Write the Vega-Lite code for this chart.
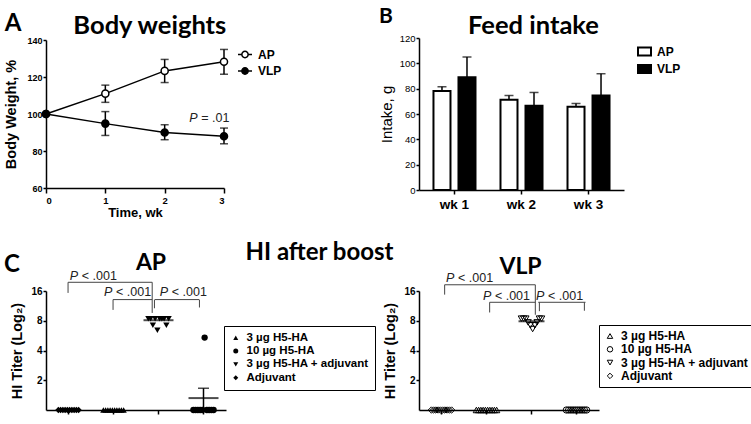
{
  "$schema": "https://vega.github.io/schema/vega-lite/v6.json",
  "background": "white",
  "padding": {"left": 3, "top": 5, "right": 0, "bottom": 0},
  "columns": 2,
  "align": {"row": "each", "column": "none"},
  "bounds": "flush",
  "center": true,
  "spacing": {"row": 101, "column": 193},
  "resolve": {"scale": {"fill": "independent", "shape": "independent", "xOffset": "independent"}, "legend": {"fill": "independent", "shape": "independent"}},
  "config": {
    "font": "Liberation Sans",
    "view": {"stroke": null},
    "axis": {"domainColor": "black", "domainWidth": 1.5, "tickColor": "black", "tickWidth": 1.5, "labelColor": "black", "titleColor": "black", "grid": false, "labelFont": "Liberation Sans", "titleFont": "Liberation Sans", "labelOverlap": false},
    "legend": {"labelColor": "black"},
    "text": {"color": "black"}
  },
  "datasets": {
    "bw": [
      {"wk": 0, "group": "AP", "bw": 100},
      {"wk": 1, "group": "AP", "bw": 111, "lo": 106.3, "hi": 115.6},
      {"wk": 2, "group": "AP", "bw": 123.3, "lo": 117, "hi": 129.5},
      {"wk": 3, "group": "AP", "bw": 128.2, "lo": 121.5, "hi": 134.9},
      {"wk": 0, "group": "VLP", "bw": 100},
      {"wk": 1, "group": "VLP", "bw": 94.8, "lo": 88.4, "hi": 101.3},
      {"wk": 2, "group": "VLP", "bw": 90, "lo": 86.1, "hi": 94.2},
      {"wk": 3, "group": "VLP", "bw": 88, "lo": 83.9, "hi": 92.4}
    ],
    "feed": [
      {"week": "wk 1", "group": "AP", "intake": 78.1, "upper": 81.5},
      {"week": "wk 1", "group": "VLP", "intake": 89.1, "upper": 105},
      {"week": "wk 2", "group": "AP", "intake": 71.2, "upper": 74.6},
      {"week": "wk 2", "group": "VLP", "intake": 66.5, "upper": 77},
      {"week": "wk 3", "group": "AP", "intake": 65.7, "upper": 68.3},
      {"week": "wk 3", "group": "VLP", "intake": 74.6, "upper": 91.8}
    ],
    "hi": [
      {"panel": "AP", "group": "Adjuvant", "rep": 1, "titer": 1}, {"panel": "AP", "group": "Adjuvant", "rep": 2, "titer": 1}, {"panel": "AP", "group": "Adjuvant", "rep": 3, "titer": 1}, {"panel": "AP", "group": "Adjuvant", "rep": 4, "titer": 1}, {"panel": "AP", "group": "Adjuvant", "rep": 5, "titer": 1}, {"panel": "AP", "group": "Adjuvant", "rep": 6, "titer": 1}, {"panel": "AP", "group": "Adjuvant", "rep": 7, "titer": 1}, {"panel": "AP", "group": "Adjuvant", "rep": 8, "titer": 1}, {"panel": "AP", "group": "Adjuvant", "rep": 9, "titer": 1}, {"panel": "AP", "group": "Adjuvant", "rep": 10, "titer": 1},
      {"panel": "AP", "group": "3 µg H5-HA", "rep": 1, "titer": 1}, {"panel": "AP", "group": "3 µg H5-HA", "rep": 2, "titer": 1}, {"panel": "AP", "group": "3 µg H5-HA", "rep": 3, "titer": 1}, {"panel": "AP", "group": "3 µg H5-HA", "rep": 4, "titer": 1}, {"panel": "AP", "group": "3 µg H5-HA", "rep": 5, "titer": 1}, {"panel": "AP", "group": "3 µg H5-HA", "rep": 6, "titer": 1}, {"panel": "AP", "group": "3 µg H5-HA", "rep": 7, "titer": 1}, {"panel": "AP", "group": "3 µg H5-HA", "rep": 8, "titer": 1}, {"panel": "AP", "group": "3 µg H5-HA", "rep": 9, "titer": 1}, {"panel": "AP", "group": "3 µg H5-HA", "rep": 10, "titer": 1},
      {"panel": "AP", "group": "3 µg H5-HA + adjuvant", "rep": 1, "titer": 8.4}, {"panel": "AP", "group": "3 µg H5-HA + adjuvant", "rep": 2, "titer": 8.4}, {"panel": "AP", "group": "3 µg H5-HA + adjuvant", "rep": 3, "titer": 7.2}, {"panel": "AP", "group": "3 µg H5-HA + adjuvant", "rep": 4, "titer": 8.4}, {"panel": "AP", "group": "3 µg H5-HA + adjuvant", "rep": 5, "titer": 6.4}, {"panel": "AP", "group": "3 µg H5-HA + adjuvant", "rep": 6, "titer": 8.4}, {"panel": "AP", "group": "3 µg H5-HA + adjuvant", "rep": 7, "titer": 8.4}, {"panel": "AP", "group": "3 µg H5-HA + adjuvant", "rep": 8, "titer": 8.4}, {"panel": "AP", "group": "3 µg H5-HA + adjuvant", "rep": 9, "titer": 7.2}, {"panel": "AP", "group": "3 µg H5-HA + adjuvant", "rep": 10, "titer": 8.4},
      {"panel": "AP", "group": "10 µg H5-HA", "rep": 1, "titer": 1}, {"panel": "AP", "group": "10 µg H5-HA", "rep": 2, "titer": 1}, {"panel": "AP", "group": "10 µg H5-HA", "rep": 3, "titer": 1}, {"panel": "AP", "group": "10 µg H5-HA", "rep": 4, "titer": 1}, {"panel": "AP", "group": "10 µg H5-HA", "rep": 5, "titer": 1}, {"panel": "AP", "group": "10 µg H5-HA", "rep": 6, "titer": 5.4}, {"panel": "AP", "group": "10 µg H5-HA", "rep": 7, "titer": 1}, {"panel": "AP", "group": "10 µg H5-HA", "rep": 8, "titer": 1}, {"panel": "AP", "group": "10 µg H5-HA", "rep": 9, "titer": 1}, {"panel": "AP", "group": "10 µg H5-HA", "rep": 10, "titer": 1},
      {"panel": "VLP", "group": "Adjuvant", "rep": 1, "titer": 1}, {"panel": "VLP", "group": "Adjuvant", "rep": 2, "titer": 1}, {"panel": "VLP", "group": "Adjuvant", "rep": 3, "titer": 1}, {"panel": "VLP", "group": "Adjuvant", "rep": 4, "titer": 1}, {"panel": "VLP", "group": "Adjuvant", "rep": 5, "titer": 1}, {"panel": "VLP", "group": "Adjuvant", "rep": 6, "titer": 1}, {"panel": "VLP", "group": "Adjuvant", "rep": 7, "titer": 1}, {"panel": "VLP", "group": "Adjuvant", "rep": 8, "titer": 1}, {"panel": "VLP", "group": "Adjuvant", "rep": 9, "titer": 1}, {"panel": "VLP", "group": "Adjuvant", "rep": 10, "titer": 1},
      {"panel": "VLP", "group": "3 µg H5-HA", "rep": 1, "titer": 1}, {"panel": "VLP", "group": "3 µg H5-HA", "rep": 2, "titer": 1}, {"panel": "VLP", "group": "3 µg H5-HA", "rep": 3, "titer": 1}, {"panel": "VLP", "group": "3 µg H5-HA", "rep": 4, "titer": 1}, {"panel": "VLP", "group": "3 µg H5-HA", "rep": 5, "titer": 1}, {"panel": "VLP", "group": "3 µg H5-HA", "rep": 6, "titer": 1}, {"panel": "VLP", "group": "3 µg H5-HA", "rep": 7, "titer": 1}, {"panel": "VLP", "group": "3 µg H5-HA", "rep": 8, "titer": 1}, {"panel": "VLP", "group": "3 µg H5-HA", "rep": 9, "titer": 1}, {"panel": "VLP", "group": "3 µg H5-HA", "rep": 10, "titer": 1},
      {"panel": "VLP", "group": "3 µg H5-HA + adjuvant", "rep": 1, "titer": 8.4}, {"panel": "VLP", "group": "3 µg H5-HA + adjuvant", "rep": 2, "titer": 8.4}, {"panel": "VLP", "group": "3 µg H5-HA + adjuvant", "rep": 3, "titer": 8.4}, {"panel": "VLP", "group": "3 µg H5-HA + adjuvant", "rep": 4, "titer": 7.7}, {"panel": "VLP", "group": "3 µg H5-HA + adjuvant", "rep": 5, "titer": 7.2}, {"panel": "VLP", "group": "3 µg H5-HA + adjuvant", "rep": 6, "titer": 6.6}, {"panel": "VLP", "group": "3 µg H5-HA + adjuvant", "rep": 7, "titer": 7.2}, {"panel": "VLP", "group": "3 µg H5-HA + adjuvant", "rep": 8, "titer": 7.7}, {"panel": "VLP", "group": "3 µg H5-HA + adjuvant", "rep": 9, "titer": 8.4}, {"panel": "VLP", "group": "3 µg H5-HA + adjuvant", "rep": 10, "titer": 8.4},
      {"panel": "VLP", "group": "10 µg H5-HA", "rep": 1, "titer": 1}, {"panel": "VLP", "group": "10 µg H5-HA", "rep": 2, "titer": 1}, {"panel": "VLP", "group": "10 µg H5-HA", "rep": 3, "titer": 1}, {"panel": "VLP", "group": "10 µg H5-HA", "rep": 4, "titer": 1}, {"panel": "VLP", "group": "10 µg H5-HA", "rep": 5, "titer": 1}, {"panel": "VLP", "group": "10 µg H5-HA", "rep": 6, "titer": 1}, {"panel": "VLP", "group": "10 µg H5-HA", "rep": 7, "titer": 1}, {"panel": "VLP", "group": "10 µg H5-HA", "rep": 8, "titer": 1}, {"panel": "VLP", "group": "10 µg H5-HA", "rep": 9, "titer": 1}, {"panel": "VLP", "group": "10 µg H5-HA", "rep": 10, "titer": 1}
    ],
    "himean": [
      {"panel": "AP", "group": "3 µg H5-HA + adjuvant", "mean": 8.1},
      {"panel": "AP", "group": "10 µg H5-HA", "mean": 1.32, "lower": 1, "upper": 1.66},
      {"panel": "VLP", "group": "3 µg H5-HA + adjuvant", "mean": 7.9}
    ],
    "brh": [
      {"panel": "AP", "k": "a", "from": "Adjuvant", "to": "3 µg H5-HA + adjuvant", "y": 19.6},
      {"panel": "AP", "k": "a", "from": "3 µg H5-HA", "to": "3 µg H5-HA + adjuvant", "y": 13.1},
      {"panel": "AP", "k": "b", "from": "3 µg H5-HA + adjuvant", "to": "10 µg H5-HA", "y": 13.1},
      {"panel": "VLP", "k": "a", "from": "Adjuvant", "to": "3 µg H5-HA + adjuvant", "y": 18.5},
      {"panel": "VLP", "k": "a", "from": "3 µg H5-HA", "to": "3 µg H5-HA + adjuvant", "y": 12.3},
      {"panel": "VLP", "k": "b", "from": "3 µg H5-HA + adjuvant", "to": "10 µg H5-HA", "y": 12.3}
    ],
    "brv": [
      {"panel": "AP", "k": "c", "at": "Adjuvant", "y": 19.6, "y2": 15.3},
      {"panel": "AP", "k": "c", "at": "3 µg H5-HA", "y": 13.1, "y2": 10.3},
      {"panel": "AP", "k": "d", "at": "3 µg H5-HA + adjuvant", "y": 19.6, "y2": 9.6},
      {"panel": "AP", "k": "e", "at": "3 µg H5-HA + adjuvant", "y": 13.1, "y2": 10.7},
      {"panel": "AP", "k": "e", "at": "10 µg H5-HA", "y": 13.1, "y2": 10.9},
      {"panel": "VLP", "k": "c", "at": "Adjuvant", "y": 18.5, "y2": 14.7},
      {"panel": "VLP", "k": "c", "at": "3 µg H5-HA", "y": 12.3, "y2": 9.7},
      {"panel": "VLP", "k": "d", "at": "3 µg H5-HA + adjuvant", "y": 18.5, "y2": 9.2},
      {"panel": "VLP", "k": "e", "at": "3 µg H5-HA + adjuvant", "y": 12.3, "y2": 10.0},
      {"panel": "VLP", "k": "e", "at": "10 µg H5-HA", "y": 12.3, "y2": 10.1}
    ],
    "ptxt": [
      {"panel": "AP", "k": "f", "at": "Adjuvant", "y": 22.9},
      {"panel": "AP", "k": "g", "at": "3 µg H5-HA", "y": 15.8},
      {"panel": "AP", "k": "f", "at": "3 µg H5-HA + adjuvant", "y": 15.8},
      {"panel": "VLP", "k": "f", "at": "Adjuvant", "y": 21.7},
      {"panel": "VLP", "k": "g", "at": "3 µg H5-HA", "y": 14.1},
      {"panel": "VLP", "k": "f", "at": "3 µg H5-HA + adjuvant", "y": 14.1}
    ]
  },
  "concat": [
    {
      "width": 178, "height": 148,
      "layer": [
        {"data": {"name": "bw"}, "mark": {"type": "line", "color": "black", "strokeWidth": 1.5},
         "encoding": {
           "x": {"field": "wk", "type": "quantitative", "scale": {"domain": [0, 3], "nice": false}, "axis": {"values": [0, 1, 2, 3], "tickCount": 10, "format": "d", "title": "Time, wk", "tickSize": 5, "labelFontSize": 9.5, "labelFontWeight": "bold", "labelPadding": 2, "labelOverlap": false, "titleFontSize": 13, "titleFontWeight": "bold", "titlePadding": 2}},
           "y": {"field": "bw", "type": "quantitative", "scale": {"domain": [60, 140], "nice": false, "zero": false}, "axis": {"values": [60, 80, 100, 120, 140], "tickCount": 10, "title": "Body Weight, %", "tickSize": 3, "labelFontSize": 9, "labelFontWeight": "bold", "labelPadding": 1, "labelOverlap": false, "labelBound": false, "titleFontSize": 14.5, "titleFontWeight": "bold", "titlePadding": 8}},
           "detail": {"field": "group"}
         }},
        {"data": {"name": "bw"}, "mark": {"type": "rule", "color": "black", "strokeWidth": 1.5},
         "encoding": {"x": {"field": "wk", "type": "quantitative", "scale": {"domain": [0, 3], "nice": false}}, "y": {"field": "lo", "type": "quantitative", "scale": {"domain": [60, 140], "nice": false, "zero": false}}, "y2": {"field": "hi"}}},
        {"data": {"name": "bw"}, "mark": {"type": "tick", "orient": "horizontal", "color": "black", "size": 8, "thickness": 1.5},
         "encoding": {"x": {"field": "wk", "type": "quantitative", "scale": {"domain": [0, 3], "nice": false}}, "y": {"field": "lo", "type": "quantitative", "scale": {"domain": [60, 140], "nice": false, "zero": false}}}},
        {"data": {"name": "bw"}, "mark": {"type": "tick", "orient": "horizontal", "color": "black", "size": 8, "thickness": 1.5},
         "encoding": {"x": {"field": "wk", "type": "quantitative", "scale": {"domain": [0, 3], "nice": false}}, "y": {"field": "hi", "type": "quantitative", "scale": {"domain": [60, 140], "nice": false, "zero": false}}}},
        {"data": {"name": "bw"}, "mark": {"type": "point", "shape": "circle", "filled": true, "size": 50, "stroke": "black", "strokeWidth": 1.5, "opacity": 1},
         "encoding": {
           "x": {"field": "wk", "type": "quantitative", "scale": {"domain": [0, 3], "nice": false}},
           "y": {"field": "bw", "type": "quantitative", "scale": {"domain": [60, 140], "nice": false, "zero": false}},
           "fill": {"field": "group", "type": "nominal", "scale": {"domain": ["AP", "VLP"], "range": ["white", "black"]},
                    "legend": {"title": null, "orient": "none", "legendX": 191, "legendY": 6.5, "padding": 0, "symbolType": "M-1,0H-0.45M0.45,0A0.45,0.45,0,1,1,-0.45,0A0.45,0.45,0,1,1,0.45,0M0.45,0H1", "symbolSize": 196, "symbolStrokeColor": "black", "symbolStrokeWidth": 1.5, "labelFont": "Liberation Sans", "labelFontSize": 12, "labelFontWeight": "bold", "labelOffset": 5, "rowPadding": 1.5}}
         }},
        {"data": {"values": [{}]}, "mark": {"type": "text", "text": "P", "fontStyle": "italic", "fontSize": 12.5, "align": "left", "baseline": "middle", "color": "#222"},
         "encoding": {"x": {"datum": 2.415, "type": "quantitative", "scale": {"domain": [0, 3], "nice": false}}, "y": {"datum": 98, "type": "quantitative", "scale": {"domain": [60, 140], "nice": false, "zero": false}}}},
        {"data": {"values": [{}]}, "mark": {"type": "text", "text": "= .01", "fontSize": 12.5, "align": "left", "baseline": "middle", "dx": 12, "color": "#222"},
         "encoding": {"x": {"datum": 2.415, "type": "quantitative", "scale": {"domain": [0, 3], "nice": false}}, "y": {"datum": 98, "type": "quantitative", "scale": {"domain": [60, 140], "nice": false, "zero": false}}}},
        {"data": {"values": [{}]}, "mark": {"type": "text", "text": "A", "font": "Lato", "fontSize": 24, "fontWeight": "bold", "align": "center", "baseline": "middle"},
         "encoding": {"x": {"datum": -0.556, "type": "quantitative", "scale": {"domain": [0, 3], "nice": false}}, "y": {"datum": 148.6, "type": "quantitative", "scale": {"domain": [60, 140], "nice": false, "zero": false}}}},
        {"data": {"values": [{}]}, "mark": {"type": "text", "text": "Body weights", "font": "Lato", "fontSize": 25.5, "fontWeight": "bold", "align": "center", "baseline": "alphabetic"},
         "encoding": {"x": {"datum": 1.75, "type": "quantitative", "scale": {"domain": [0, 3], "nice": false}}, "y": {"datum": 143.4, "type": "quantitative", "scale": {"domain": [60, 140], "nice": false, "zero": false}}}}
      ]
    },
    {
      "width": 205, "height": 152,
      "layer": [
        {"data": {"name": "feed"}, "mark": {"type": "bar", "stroke": "black", "strokeWidth": 2},
         "encoding": {
           "x": {"field": "week", "type": "nominal", "scale": {"paddingInner": 0.373, "paddingOuter": 0.216}, "axis": {"title": null, "labelAngle": 0, "labelFontSize": 13.5, "labelFontWeight": "bold", "tickSize": 4, "labelPadding": 3}},
           "xOffset": {"field": "group", "type": "nominal", "scale": {"domain": ["AP", "VLP"], "paddingInner": 0.32, "paddingOuter": 0}},
           "y": {"field": "intake", "type": "quantitative", "scale": {"domain": [0, 120], "nice": false}, "axis": {"values": [0, 20, 40, 60, 80, 100, 120], "tickCount": 10, "title": "Intake, g", "tickSize": 3, "labelFontSize": 9.5, "labelPadding": 1, "labelOverlap": false, "labelBound": false, "titleFontSize": 15, "titleFontWeight": "normal", "titlePadding": 5}},
           "fill": {"field": "group", "type": "nominal", "scale": {"domain": ["AP", "VLP"], "range": ["white", "black"]},
                    "legend": {"title": null, "orient": "none", "legendX": 218, "legendY": 6, "padding": 0, "symbolType": "M-1,-0.6H1V0.6H-1Z", "symbolSize": 169, "symbolStrokeColor": "black", "symbolStrokeWidth": 2, "labelFont": "Liberation Sans", "labelFontSize": 12, "labelFontWeight": "bold", "labelOffset": 5, "rowPadding": 0.5}}
         }},
        {"data": {"name": "feed"}, "mark": {"type": "rule", "color": "black", "strokeWidth": 1.5},
         "encoding": {"x": {"field": "week", "type": "nominal"}, "xOffset": {"field": "group", "type": "nominal"}, "y": {"field": "intake", "type": "quantitative", "scale": {"domain": [0, 120], "nice": false}}, "y2": {"field": "upper"}}},
        {"data": {"name": "feed"}, "mark": {"type": "tick", "orient": "horizontal", "color": "black", "size": 9, "thickness": 1.5},
         "encoding": {"x": {"field": "week", "type": "nominal"}, "xOffset": {"field": "group", "type": "nominal"}, "y": {"field": "upper", "type": "quantitative", "scale": {"domain": [0, 120], "nice": false}}}},
        {"data": {"values": [{}]}, "mark": {"type": "text", "text": "B", "font": "Lato", "fontSize": 21, "fontWeight": "bold", "align": "center", "baseline": "middle", "dx": -68.5},
         "encoding": {"x": {"datum": "wk 1", "type": "nominal"}, "y": {"datum": 136.6, "type": "quantitative", "scale": {"domain": [0, 120], "nice": false}}}},
        {"data": {"values": [{}]}, "mark": {"type": "text", "text": "Feed intake", "font": "Lato", "fontSize": 25.5, "fontWeight": "bold", "align": "center", "baseline": "alphabetic", "dx": 12},
         "encoding": {"x": {"datum": "wk 2", "type": "nominal"}, "y": {"datum": 123.2, "type": "quantitative", "scale": {"domain": [0, 120], "nice": false}}}}
      ]
    },
    {
      "width": 180, "height": 119,
      "layer": [
        {"data": {"name": "hi"}, "transform": [{"filter": "datum.panel === 'AP'"}],
         "mark": {"type": "point", "filled": true, "color": "black", "size": 40, "opacity": 1},
         "encoding": {
           "x": {"field": "group", "type": "nominal", "scale": {"type": "band", "domain": ["Adjuvant", "3 µg H5-HA", "3 µg H5-HA + adjuvant", "10 µg H5-HA"], "paddingInner": 0, "paddingOuter": 0}, "axis": {"title": null, "labels": false, "tickSize": 4}},
           "xOffset": {"field": "rep", "type": "nominal", "scale": {"type": "band", "domain": [-4, -3, -2, -1, 0, 1, 2, 3, 4, 5, 6, 7, 8, 9, 10, 11, 12, 13, 14, 15], "paddingInner": 0, "paddingOuter": 0}},
           "y": {"field": "titer", "type": "quantitative", "scale": {"type": "log", "base": 2, "domain": [1, 16], "nice": false}, "axis": {"values": [2, 4, 8, 16], "tickCount": 10, "format": "d", "title": "HI Titer (Log₂)", "tickSize": 3, "labelFontSize": 10, "labelFontWeight": "bold", "labelPadding": 1, "labelOverlap": false, "titleFontSize": 14.5, "titleFontWeight": "bold", "titlePadding": 6}},
           "shape": {"field": "group", "type": "nominal", "scale": {"domain": ["3 µg H5-HA", "10 µg H5-HA", "3 µg H5-HA + adjuvant", "Adjuvant"], "range": ["triangle-up", "circle", "triangle-down", "diamond"]},
                     "legend": {"title": null, "orient": "none", "legendX": 178, "legendY": 35, "strokeColor": "black", "fillColor": "white", "padding": 6, "symbolSize": 25, "symbolFillColor": "black", "symbolStrokeColor": "black", "symbolStrokeWidth": 1, "labelFont": "Liberation Sans", "labelFontSize": 11.5, "labelFontWeight": "bold", "labelOffset": 5, "rowPadding": 0.3, "labelLimit": 300}}
         }},
        {"data": {"name": "himean"}, "transform": [{"filter": "datum.panel === 'AP'"}],
         "mark": {"type": "tick", "orient": "horizontal", "color": "black", "thickness": 2, "size": 30},
         "encoding": {"x": {"field": "group", "type": "nominal"}, "y": {"field": "mean", "type": "quantitative", "scale": {"type": "log", "base": 2, "domain": [1, 16], "nice": false}}}},
        {"data": {"name": "himean"}, "transform": [{"filter": "datum.panel === 'AP' && datum.upper != null"}],
         "mark": {"type": "rule", "color": "black", "strokeWidth": 1.5},
         "encoding": {"x": {"field": "group", "type": "nominal"}, "y": {"field": "lower", "type": "quantitative", "scale": {"type": "log", "base": 2, "domain": [1, 16], "nice": false}}, "y2": {"field": "upper"}}},
        {"data": {"name": "himean"}, "transform": [{"filter": "datum.panel === 'AP' && datum.upper != null"}],
         "mark": {"type": "tick", "orient": "horizontal", "color": "black", "thickness": 1.5, "size": 11},
         "encoding": {"x": {"field": "group", "type": "nominal"}, "y": {"field": "upper", "type": "quantitative", "scale": {"type": "log", "base": 2, "domain": [1, 16], "nice": false}}}},
        {"data": {"name": "brh"}, "transform": [{"filter": "datum.panel === 'AP' && datum.k === 'a'"}],
         "mark": {"type": "rule", "color": "#444", "strokeWidth": 1},
         "encoding": {"x": {"field": "from", "type": "nominal", "bandPosition": 0.49}, "x2": {"field": "to", "bandPosition": 0.36}, "y": {"field": "y", "type": "quantitative", "scale": {"type": "log", "base": 2, "domain": [1, 16], "nice": false}}}},
        {"data": {"name": "brh"}, "transform": [{"filter": "datum.panel === 'AP' && datum.k === 'b'"}],
         "mark": {"type": "rule", "color": "#444", "strokeWidth": 1},
         "encoding": {"x": {"field": "from", "type": "nominal", "bandPosition": 0.42}, "x2": {"field": "to", "bandPosition": 0.4}, "y": {"field": "y", "type": "quantitative", "scale": {"type": "log", "base": 2, "domain": [1, 16], "nice": false}}}},
        {"data": {"name": "brv"}, "transform": [{"filter": "datum.panel === 'AP' && datum.k === 'c'"}],
         "mark": {"type": "rule", "color": "#444", "strokeWidth": 1},
         "encoding": {"x": {"field": "at", "type": "nominal", "bandPosition": 0.49}, "y": {"field": "y", "type": "quantitative", "scale": {"type": "log", "base": 2, "domain": [1, 16], "nice": false}}, "y2": {"field": "y2"}}},
        {"data": {"name": "brv"}, "transform": [{"filter": "datum.panel === 'AP' && datum.k === 'd'"}],
         "mark": {"type": "rule", "color": "#444", "strokeWidth": 1},
         "encoding": {"x": {"field": "at", "type": "nominal", "bandPosition": 0.36}, "y": {"field": "y", "type": "quantitative", "scale": {"type": "log", "base": 2, "domain": [1, 16], "nice": false}}, "y2": {"field": "y2"}}},
        {"data": {"name": "brv"}, "transform": [{"filter": "datum.panel === 'AP' && datum.k === 'e'"}],
         "mark": {"type": "rule", "color": "#444", "strokeWidth": 1},
         "encoding": {"x": {"field": "at", "type": "nominal", "bandPosition": 0.41}, "y": {"field": "y", "type": "quantitative", "scale": {"type": "log", "base": 2, "domain": [1, 16], "nice": false}}, "y2": {"field": "y2"}}},
        {"data": {"name": "ptxt"}, "transform": [{"filter": "datum.panel === 'AP' && datum.k === 'f'"}],
         "mark": {"type": "text", "text": "P", "fontStyle": "italic", "fontSize": 12.5, "align": "left", "baseline": "middle", "color": "#222"},
         "encoding": {"x": {"field": "at", "type": "nominal", "bandPosition": 0.53}, "y": {"field": "y", "type": "quantitative", "scale": {"type": "log", "base": 2, "domain": [1, 16], "nice": false}}}},
        {"data": {"name": "ptxt"}, "transform": [{"filter": "datum.panel === 'AP' && datum.k === 'f'"}],
         "mark": {"type": "text", "text": "< .001", "fontSize": 12.5, "align": "left", "baseline": "middle", "dx": 12, "color": "#222"},
         "encoding": {"x": {"field": "at", "type": "nominal", "bandPosition": 0.53}, "y": {"field": "y", "type": "quantitative", "scale": {"type": "log", "base": 2, "domain": [1, 16], "nice": false}}}},
        {"data": {"name": "ptxt"}, "transform": [{"filter": "datum.panel === 'AP' && datum.k === 'g'"}],
         "mark": {"type": "text", "text": "P", "fontStyle": "italic", "fontSize": 12.5, "align": "left", "baseline": "middle", "color": "#222"},
         "encoding": {"x": {"field": "at", "type": "nominal", "bandPosition": 0.29}, "y": {"field": "y", "type": "quantitative", "scale": {"type": "log", "base": 2, "domain": [1, 16], "nice": false}}}},
        {"data": {"name": "ptxt"}, "transform": [{"filter": "datum.panel === 'AP' && datum.k === 'g'"}],
         "mark": {"type": "text", "text": "< .001", "fontSize": 12.5, "align": "left", "baseline": "middle", "dx": 12, "color": "#222"},
         "encoding": {"x": {"field": "at", "type": "nominal", "bandPosition": 0.29}, "y": {"field": "y", "type": "quantitative", "scale": {"type": "log", "base": 2, "domain": [1, 16], "nice": false}}}},
        {"data": {"values": [{}]}, "mark": {"type": "text", "text": "C", "font": "Lato", "fontSize": 24, "fontWeight": "bold", "align": "center", "baseline": "middle", "dx": -56.5},
         "encoding": {"x": {"datum": "Adjuvant", "type": "nominal"}, "y": {"datum": 29.5, "type": "quantitative", "scale": {"type": "log", "base": 2, "domain": [1, 16], "nice": false}}}},
        {"data": {"values": [{}]}, "mark": {"type": "text", "text": "AP", "font": "Lato", "fontSize": 23, "fontWeight": "bold", "align": "center", "baseline": "alphabetic", "dx": -7.5},
         "encoding": {"x": {"datum": "3 µg H5-HA + adjuvant", "type": "nominal"}, "y": {"datum": 26.1, "type": "quantitative", "scale": {"type": "log", "base": 2, "domain": [1, 16], "nice": false}}}},
        {"data": {"values": [{}]}, "mark": {"type": "text", "text": "HI after boost", "font": "Lato", "fontSize": 24, "fontWeight": "bold", "align": "center", "baseline": "middle", "dx": 116},
         "encoding": {"x": {"datum": "10 µg H5-HA", "type": "nominal"}, "y": {"datum": 38.5, "type": "quantitative", "scale": {"type": "log", "base": 2, "domain": [1, 16], "nice": false}}}}
      ]
    },
    {
      "width": 180, "height": 119,
      "layer": [
        {"data": {"name": "hi"}, "transform": [{"filter": "datum.panel === 'VLP'"}],
         "mark": {"type": "point", "filled": false, "color": "black", "strokeWidth": 1, "size": 40, "opacity": 1},
         "encoding": {
           "x": {"field": "group", "type": "nominal", "scale": {"type": "band", "domain": ["Adjuvant", "3 µg H5-HA", "3 µg H5-HA + adjuvant", "10 µg H5-HA"], "paddingInner": 0, "paddingOuter": 0}, "axis": {"title": null, "labels": false, "tickSize": 4}},
           "xOffset": {"field": "rep", "type": "nominal", "scale": {"type": "band", "domain": [-4, -3, -2, -1, 0, 1, 2, 3, 4, 5, 6, 7, 8, 9, 10, 11, 12, 13, 14, 15], "paddingInner": 0, "paddingOuter": 0}},
           "y": {"field": "titer", "type": "quantitative", "scale": {"type": "log", "base": 2, "domain": [1, 16], "nice": false}, "axis": {"values": [2, 4, 8, 16], "tickCount": 10, "format": "d", "title": "HI Titer (Log₂)", "tickSize": 3, "labelFontSize": 10, "labelFontWeight": "bold", "labelPadding": 1, "labelOverlap": false, "titleFontSize": 14.5, "titleFontWeight": "bold", "titlePadding": 6}},
           "shape": {"field": "group", "type": "nominal", "scale": {"domain": ["3 µg H5-HA", "10 µg H5-HA", "3 µg H5-HA + adjuvant", "Adjuvant"], "range": ["triangle-up", "circle", "triangle-down", "diamond"]},
                     "legend": {"title": null, "orient": "none", "legendX": 180, "legendY": 34, "strokeColor": "black", "fillColor": "white", "padding": 5, "symbolSize": 30, "symbolFillColor": "white", "symbolStrokeColor": "black", "symbolStrokeWidth": 1, "labelFont": "Liberation Sans", "labelFontSize": 12, "labelFontWeight": "bold", "labelOffset": 5, "rowPadding": 1.3, "labelLimit": 300}}
         }},
        {"data": {"name": "himean"}, "transform": [{"filter": "datum.panel === 'VLP'"}],
         "mark": {"type": "tick", "orient": "horizontal", "color": "black", "thickness": 2, "size": 26},
         "encoding": {"x": {"field": "group", "type": "nominal"}, "y": {"field": "mean", "type": "quantitative", "scale": {"type": "log", "base": 2, "domain": [1, 16], "nice": false}}}},
        {"data": {"name": "brh"}, "transform": [{"filter": "datum.panel === 'VLP' && datum.k === 'a'"}],
         "mark": {"type": "rule", "color": "#444", "strokeWidth": 1},
         "encoding": {"x": {"field": "from", "type": "nominal", "bandPosition": 0.57}, "x2": {"field": "to", "bandPosition": 0.585}, "y": {"field": "y", "type": "quantitative", "scale": {"type": "log", "base": 2, "domain": [1, 16], "nice": false}}}},
        {"data": {"name": "brh"}, "transform": [{"filter": "datum.panel === 'VLP' && datum.k === 'b'"}],
         "mark": {"type": "rule", "color": "#444", "strokeWidth": 1},
         "encoding": {"x": {"field": "from", "type": "nominal", "bandPosition": 0.65}, "x2": {"field": "to", "bandPosition": 0.7}, "y": {"field": "y", "type": "quantitative", "scale": {"type": "log", "base": 2, "domain": [1, 16], "nice": false}}}},
        {"data": {"name": "brv"}, "transform": [{"filter": "datum.panel === 'VLP' && datum.k === 'c'"}],
         "mark": {"type": "rule", "color": "#444", "strokeWidth": 1},
         "encoding": {"x": {"field": "at", "type": "nominal", "bandPosition": 0.57}, "y": {"field": "y", "type": "quantitative", "scale": {"type": "log", "base": 2, "domain": [1, 16], "nice": false}}, "y2": {"field": "y2"}}},
        {"data": {"name": "brv"}, "transform": [{"filter": "datum.panel === 'VLP' && datum.k === 'd'"}],
         "mark": {"type": "rule", "color": "#444", "strokeWidth": 1},
         "encoding": {"x": {"field": "at", "type": "nominal", "bandPosition": 0.585}, "y": {"field": "y", "type": "quantitative", "scale": {"type": "log", "base": 2, "domain": [1, 16], "nice": false}}, "y2": {"field": "y2"}}},
        {"data": {"name": "brv"}, "transform": [{"filter": "datum.panel === 'VLP' && datum.k === 'e'"}],
         "mark": {"type": "rule", "color": "#444", "strokeWidth": 1},
         "encoding": {"x": {"field": "at", "type": "nominal", "bandPosition": 0.675}, "y": {"field": "y", "type": "quantitative", "scale": {"type": "log", "base": 2, "domain": [1, 16], "nice": false}}, "y2": {"field": "y2"}}},
        {"data": {"name": "ptxt"}, "transform": [{"filter": "datum.panel === 'VLP' && datum.k === 'f'"}],
         "mark": {"type": "text", "text": "P", "fontStyle": "italic", "fontSize": 12.5, "align": "left", "baseline": "middle", "color": "#222"},
         "encoding": {"x": {"field": "at", "type": "nominal", "bandPosition": 0.6}, "y": {"field": "y", "type": "quantitative", "scale": {"type": "log", "base": 2, "domain": [1, 16], "nice": false}}}},
        {"data": {"name": "ptxt"}, "transform": [{"filter": "datum.panel === 'VLP' && datum.k === 'f'"}],
         "mark": {"type": "text", "text": "< .001", "fontSize": 12.5, "align": "left", "baseline": "middle", "dx": 12, "color": "#222"},
         "encoding": {"x": {"field": "at", "type": "nominal", "bandPosition": 0.6}, "y": {"field": "y", "type": "quantitative", "scale": {"type": "log", "base": 2, "domain": [1, 16], "nice": false}}}},
        {"data": {"name": "ptxt"}, "transform": [{"filter": "datum.panel === 'VLP' && datum.k === 'g'"}],
         "mark": {"type": "text", "text": "P", "fontStyle": "italic", "fontSize": 12.5, "align": "left", "baseline": "middle", "color": "#222"},
         "encoding": {"x": {"field": "at", "type": "nominal", "bandPosition": 0.42}, "y": {"field": "y", "type": "quantitative", "scale": {"type": "log", "base": 2, "domain": [1, 16], "nice": false}}}},
        {"data": {"name": "ptxt"}, "transform": [{"filter": "datum.panel === 'VLP' && datum.k === 'g'"}],
         "mark": {"type": "text", "text": "< .001", "fontSize": 12.5, "align": "left", "baseline": "middle", "dx": 12, "color": "#222"},
         "encoding": {"x": {"field": "at", "type": "nominal", "bandPosition": 0.42}, "y": {"field": "y", "type": "quantitative", "scale": {"type": "log", "base": 2, "domain": [1, 16], "nice": false}}}},
        {"data": {"values": [{}]}, "mark": {"type": "text", "text": "VLP", "font": "Lato", "fontSize": 23, "fontWeight": "bold", "align": "center", "baseline": "alphabetic", "dx": -11},
         "encoding": {"x": {"datum": "3 µg H5-HA + adjuvant", "type": "nominal"}, "y": {"datum": 23.8, "type": "quantitative", "scale": {"type": "log", "base": 2, "domain": [1, 16], "nice": false}}}}
      ]
    }
  ]
}
